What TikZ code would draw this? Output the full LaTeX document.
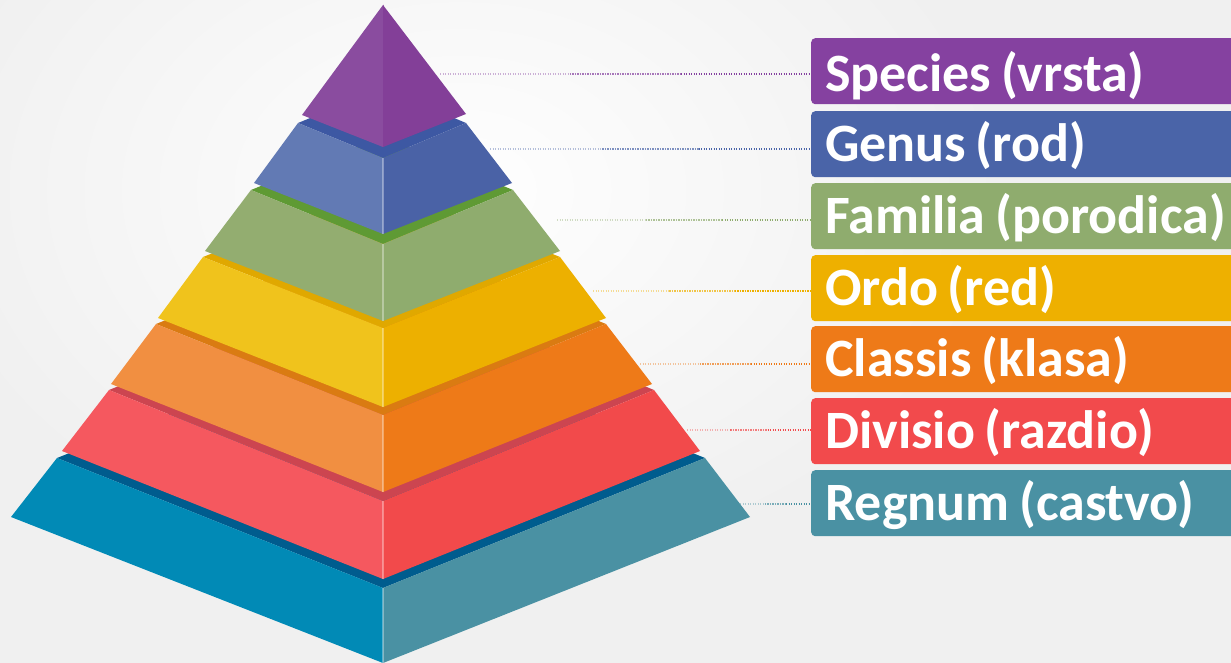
\documentclass[tikz,border=0pt]{standalone}
\usepackage{fontspec}
\setmainfont{Carlito}
\usetikzlibrary{fadings,calc}
\tikzfading[name=glowfade, inner color=transparent!0, outer color=transparent!100]
\definecolor{bgc}{HTML}{F0F0F0}
\definecolor{spcL}{HTML}{8A4C9F}\definecolor{spcR}{HTML}{833F98}
\definecolor{genL}{HTML}{627AB4}\definecolor{genR}{HTML}{4A62A6}\definecolor{genD}{HTML}{3D58A3}
\definecolor{famL}{HTML}{93AD70}\definecolor{famR}{HTML}{8FAC6E}\definecolor{famD}{HTML}{5F9A34}
\definecolor{ordL}{HTML}{F0C31C}\definecolor{ordR}{HTML}{EDB000}\definecolor{ordD}{HTML}{E0A800}
\definecolor{claL}{HTML}{F18F41}\definecolor{claR}{HTML}{EE7A18}\definecolor{claD}{HTML}{DA7B12}
\definecolor{divL}{HTML}{F5585F}\definecolor{divR}{HTML}{F24A4B}\definecolor{divD}{HTML}{CC4550}
\definecolor{regL}{HTML}{018AB6}\definecolor{regR}{HTML}{4A91A3}\definecolor{regD}{HTML}{005C8E}
\definecolor{boxS}{HTML}{8541A0}
\definecolor{boxG}{HTML}{4A64A8}
\definecolor{boxF}{HTML}{8FAC6E}
\definecolor{boxO}{HTML}{EEB000}
\definecolor{boxC}{HTML}{EE7A18}
\definecolor{boxD}{HTML}{F24A4C}
\definecolor{boxR}{HTML}{4A91A3}
% #1 Lx, #2 Ly, #3 Fy, #4 BLx, #5 BLy, #6 BCy, #7 Rx, #8 BRx, #9 colour prefix
\newcommand{\pyrtier}[9]{%
  \fill[#9D] (#1,#2) -- (383,{2*#2-#3}) -- (#7,#2) -- (383,#3) -- cycle;
  \fill[#9L] (#1,#2) -- (383,#3) -- (383.6,#3) -- (383.6,#6) -- (383,#6) -- (#4,#5) -- cycle;
  \fill[#9R] (383,#3) -- (#7,#2) -- (#8,#5) -- (383,#6) -- cycle;
  \draw[edgehl] (383,#3) -- (383,#6);
}
% faded dotted connector: #1 start coordinate, #2 target node, #3 colour
\newcommand{\fadeconn}[3]{%
  \draw[conn, #3, opacity=0.4] (#1) -- ($(#1)!0.35!(#1 -| #2.west)$);
  \draw[conn, #3, opacity=0.7] ($(#1)!0.35!(#1 -| #2.west)$) -- ($(#1)!0.65!(#1 -| #2.west)$);
  \draw[conn, #3, opacity=1] ($(#1)!0.65!(#1 -| #2.west)$) -- (#1 -| #2.west);
}
\newcommand{\lblfont}{\fontsize{54}{60}\selectfont\bfseries}
\newcommand{\lblsp}{\spaceskip=0.18em\relax}
\tikzset{
  edgehl/.style={white, opacity=0.35, line width=1.2pt},
  conn/.style={line width=1.5pt, dash pattern=on 1.3pt off 1.2pt},
  lbl/.style={rectangle, rounded corners=4pt, anchor=north west, minimum height=66pt,
    text width=440pt, inner xsep=14pt, inner ysep=8pt, text height=42pt, text depth=8pt,
    align=left, text=white, font=\lblfont}
}
\begin{document}
\begin{tikzpicture}[x=1pt,y=-1pt]
\useasboundingbox (0,0) rectangle (1231,663);
\clip (0,0) rectangle (1231,663);
\fill[bgc] (0,0) rectangle (1231,663);
\fill[white, path fading=glowfade] (460,190) ellipse [x radius=560, y radius=400];

% pyramid, bottom tier first
\pyrtier{57}{458}{588}{11}{517}{663}{705}{750}{reg}
\pyrtier{109}{390}{501}{62}{451}{579}{654}{700}{div}
\pyrtier{156}{324}{415}{111}{384}{492}{606}{652}{cla}
\pyrtier{203}{257}{328}{158}{318}{407}{560}{606}{ord}
\pyrtier{251}{190}{244}{205}{251}{321}{513}{560}{fam}
\pyrtier{298}{123}{158}{254}{183}{234}{466}{512}{gen}
\fill[spcL] (383,5) -- (383.6,5) -- (383.6,147) -- (383,147) -- (302,115) -- cycle;
\fill[spcR] (383,5) -- (466,114) -- (383,147) -- cycle;

% labels
\node[lbl, fill=boxS, text height=45pt, text depth=5pt] (bS) at (811,38) {\lblsp Species (vrsta)};
\node[lbl, fill=boxG] (bG) at (811,111) {\lblsp Genus (rod)};
\node[lbl, fill=boxF] (bF) at (811,183) {\lblsp Familia (porodica)};
\node[lbl, fill=boxO] (bO) at (811,255) {\lblsp Ordo (red)};
\node[lbl, fill=boxC] (bC) at (811,326) {\lblsp Classis (klasa)};
\node[lbl, fill=boxD] (bD) at (811,398) {\lblsp Divisio (razdio)};
\node[lbl, fill=boxR] (bR) at (811,470) {\lblsp Regnum (castvo)};

% connectors
\coordinate (cS) at (440,74);
\coordinate (cG) at (490,149);
\coordinate (cF) at (557,220);
\coordinate (cO) at (593,291);
\coordinate (cC) at (640,364);
\coordinate (cD) at (687,430);
\coordinate (cR) at (740,504);
\fadeconn{cS}{bS}{boxS}
\fadeconn{cG}{bG}{boxG}
\fadeconn{cF}{bF}{boxF}
\fadeconn{cO}{bO}{boxO}
\fadeconn{cC}{bC}{boxC}
\fadeconn{cD}{bD}{boxD}
\fadeconn{cR}{bR}{boxR}
\end{tikzpicture}
\end{document}
